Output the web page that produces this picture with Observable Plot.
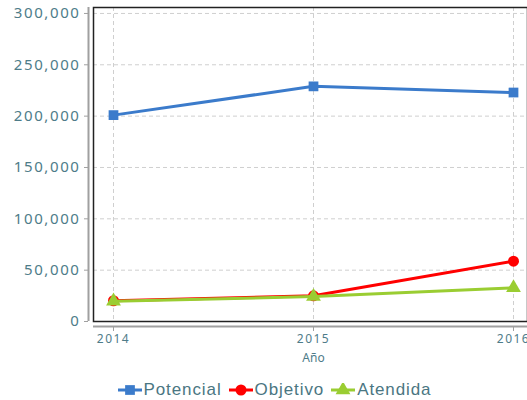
<!DOCTYPE html>
<html><head><meta charset="utf-8">
<script src="https://cdn.jsdelivr.net/npm/d3@7"></script>
<script src="https://cdn.jsdelivr.net/npm/@observablehq/plot@0.6"></script>
<style>
html,body{margin:0;padding:0;overflow:hidden;background:#fff;}
body{font-family:"Liberation Sans",Arial,sans-serif;width:527px;height:400px;position:relative;}
#chart svg{display:block;overflow:hidden;}
#legend{position:absolute;left:0;top:380px;width:527px;box-sizing:border-box;padding-left:22px;display:flex;justify-content:center;align-items:center;gap:7px;font-size:17px;letter-spacing:0.9px;color:#4a7682;}
#legend .item{display:flex;align-items:center;gap:2px;}
</style></head><body>
<div id="chart"></div>
<div id="legend"></div>
<script>
const years = [2014, 2015, 2016];
const seriesNames = ["Potencial", "Objetivo", "Atendida"];
const potencial = [201000, 229000, 223000];
const objetivo = [20200, 25000, 58700];
const atendida = [19800, 24300, 32800];
const yTicks = [0, 50000, 100000, 150000, 200000, 250000, 300000];
const colors = ["#3b7bcb", "#ff0000", "#9acd32"];
const symbols = ["square", "circle", "triangle"];
const axisLabel = "Año";

const values = [potencial, objetivo, atendida];
const data = seriesNames.flatMap((s, i) => years.map((y, j) => ({series: s, year: y, value: values[i][j]})));

const textColor = "#4e7c89";
const gridStyle = {stroke: "#cfcfcf", strokeOpacity: 1, strokeDasharray: "4,3"};

const plot = Plot.plot({
  width: 527, height: 370,
  marginLeft: 93, marginRight: 0, marginTop: 7, marginBottom: 49,
  x: {domain: [2013.9, 2016.1], range: [93, 533]},
  y: {domain: [0, 305800], range: [321, 7]},
  color: {domain: seriesNames, range: colors},
  symbol: {domain: seriesNames, range: symbols},
  marks: [
    Plot.gridX(years, gridStyle),
    Plot.gridY(yTicks.slice(1), gridStyle),
    Plot.frame({stroke: "#222", strokeWidth: 1.5}),
    Plot.ruleX([2013.9], {dx: -5, stroke: "#a0a0a0", strokeWidth: 2}),
    Plot.ruleY([0], {dy: 5, stroke: "#a0a0a0", strokeWidth: 2}),
    Plot.axisY(yTicks, {tickFormat: d3.format(","), dx: -5, tickSize: 4, tickPadding: 4, fontSize: 15, fill: textColor, stroke: "#a0a0a0", label: null}),
    Plot.axisX(years, {tickFormat: d => String(d), dy: 5, tickSize: 5, tickPadding: 3, fontSize: 12, fill: textColor, stroke: "#a0a0a0", label: null}),
    Plot.text([axisLabel], {x: () => years[1], frameAnchor: "bottom", dy: 40, fontSize: 12, fill: textColor}),
    ...seriesNames.flatMap(s => [
      Plot.line(data.filter(d => d.series === s), {x: "year", y: "value", stroke: "series", strokeWidth: 3}),
      Plot.dot(data.filter(d => d.series === s), {x: "year", y: "value", fill: "series", symbol: "series", r: 5.5, stroke: "none"})
    ])
  ]
});
plot.querySelectorAll('g[aria-label="y-axis tick label"] text').forEach(t => t.style.letterSpacing = "1.6px");
plot.querySelectorAll('g[aria-label="x-axis tick label"] text').forEach(t => t.style.letterSpacing = "1.5px");
document.getElementById("chart").append(plot);

const legend = document.getElementById("legend");
const symPaths = {
  square: d3.symbol(d3.symbolSquare, 95)(),
  circle: d3.symbol(d3.symbolCircle, 95)(),
  triangle: d3.symbol(d3.symbolTriangle, 95)()
};
seriesNames.forEach((s, i) => {
  const item = document.createElement("div");
  item.className = "item";
  item.innerHTML = `<svg width="24" height="14"><line x1="0" x2="24" y1="7" y2="7" stroke="${colors[i]}" stroke-width="3"/><path transform="translate(12,7)" d="${symPaths[symbols[i]]}" fill="${colors[i]}"/></svg><span>${s}</span>`;
  legend.append(item);
});
</script>
</body></html>
